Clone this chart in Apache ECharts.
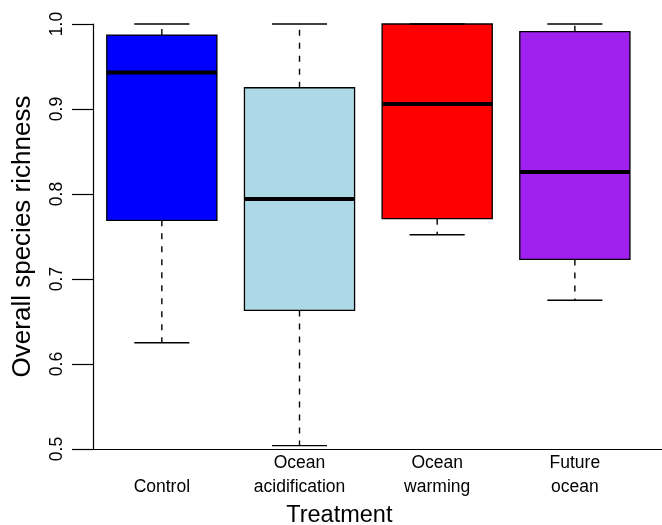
<!DOCTYPE html>
<html>
<head>
<meta charset="utf-8">
<title>Overall species richness by treatment</title>
<script src="https://cdn.jsdelivr.net/npm/echarts@6/dist/echarts.min.js"></script>
<style>
  html, body { margin: 0; padding: 0; background: #fff; }
  #chart { width: 662px; height: 525px; }
</style>
</head>
<body>
<div id="chart"></div>
<script>
// treatments, in plot order
const categories = ['Control', 'Ocean\nacidification', 'Ocean\nwarming', 'Future\nocean']
const boxColors = ['#0000ff', '#add8e6', '#ff0000', '#a020f0']

// five-number summaries
const lowerWhisker = [0.625, 0.504, 0.752, 0.675]
const lowerQuartile = [0.769, 0.663, 0.771, 0.723]
const medians = [0.943, 0.794, 0.906, 0.826]
const upperQuartile = [0.987, 0.925, 1.0, 0.991]
const upperWhisker = [1.0, 1.0, 1.0, 1.0]

const yTicks = [0.5, 0.6, 0.7, 0.8, 0.9, 1.0]

const boxData = categories.map((c, i) => [
  i, lowerWhisker[i], lowerQuartile[i], medians[i], upperQuartile[i], upperWhisker[i]
])

const font = '"Liberation Sans", Arial, Helvetica, sans-serif'

/**
 * @description: draws one R-style box (dashed whiskers, short staples, thick median)
 */
function renderBox(params, api) {
  const i = api.value(0)
  const bw = api.size([1, 0])[0] * 0.8
  const cx = api.coord([i, 1])[0]
  const yLo = api.coord([i, api.value(1)])[1]
  const yQ1 = api.coord([i, api.value(2)])[1]
  const yMed = api.coord([i, api.value(3)])[1]
  const yQ3 = api.coord([i, api.value(4)])[1]
  const yHi = api.coord([i, api.value(5)])[1]
  const dash = { stroke: '#000', lineWidth: 1.4, lineDash: [6, 7] }
  const solid = { stroke: '#000', lineWidth: 1.4 }
  return {
    type: 'group',
    children: [
      {
        type: 'rect',
        shape: { x: cx - bw / 2, y: yQ3, width: bw, height: yQ1 - yQ3 },
        style: { fill: boxColors[i], stroke: '#000', lineWidth: 1.3 }
      },
      { type: 'line', shape: { x1: cx, y1: yQ3, x2: cx, y2: yHi }, style: dash },
      { type: 'line', shape: { x1: cx, y1: yQ1, x2: cx, y2: yLo }, style: dash },
      { type: 'line', shape: { x1: cx - bw / 4, y1: yHi, x2: cx + bw / 4, y2: yHi }, style: solid },
      { type: 'line', shape: { x1: cx - bw / 4, y1: yLo, x2: cx + bw / 4, y2: yLo }, style: solid },
      { type: 'line', shape: { x1: cx - bw / 2, y1: yMed, x2: cx + bw / 2, y2: yMed }, style: { stroke: '#000', lineWidth: 4 } }
    ]
  }
}

const option = {
  animation: false,
  backgroundColor: '#fff',
  textStyle: { fontFamily: font, color: '#000' },
  grid: [
    { left: 93, right: 18.3, top: 24, bottom: 76, containLabel: false, outerBoundsMode: 'none' },
    // only carries the long bottom axis line out to the right edge
    { left: 93, right: 0, top: 24, bottom: 76, containLabel: false, outerBoundsMode: 'none' }
  ],
  xAxis: [
    {
      type: 'category',
      gridIndex: 0,
      data: categories,
      boundaryGap: true,
      axisLine: { show: false },
      axisTick: { show: false },
      axisLabel: {
        interval: 0,
        margin: 2,
        fontFamily: font,
        fontSize: 17.5,
        lineHeight: 24,
        color: '#000',
        formatter: v => (v.indexOf('\n') < 0 ? '\n' + v : v)
      },
      name: 'Treatment',
      nameLocation: 'middle',
      nameGap: 44,
      nameTextStyle: { fontFamily: font, fontSize: 23.5, color: '#000', padding: [0, 58, 0, 0] }
    },
    {
      type: 'value',
      gridIndex: 1,
      min: 0,
      max: 1,
      axisLine: { show: true, onZero: false, lineStyle: { color: '#000', width: 1.2 } },
      axisTick: { show: false },
      axisLabel: { show: false },
      splitLine: { show: false }
    }
  ],
  yAxis: [
    {
      type: 'value',
      gridIndex: 0,
      min: yTicks[0],
      max: yTicks[yTicks.length - 1],
      interval: 0.1,
      axisLine: { show: true, lineStyle: { color: '#000', width: 1.2 } },
      axisTick: { show: true, length: 21, lineStyle: { color: '#000', width: 1.2 } },
      splitLine: { show: false },
      axisLabel: {
        rotate: 90,
        margin: 27,
        fontFamily: font,
        fontSize: 17.5,
        color: '#000',
        formatter: v => v.toFixed(1)
      },
      name: 'Overall species richness',
      nameLocation: 'middle',
      nameGap: 57,
      nameTextStyle: { fontFamily: font, fontSize: 26, color: '#000' }
    },
    {
      type: 'value',
      gridIndex: 1,
      show: false
    }
  ],
  series: [
    {
      type: 'custom',
      xAxisIndex: 0,
      yAxisIndex: 0,
      renderItem: renderBox,
      encode: { x: 0, y: [1, 2, 3, 4, 5] },
      data: boxData
    }
  ]
}

const chart = echarts.init(document.getElementById('chart'))
chart.setOption(option)
</script>
</body>
</html>
